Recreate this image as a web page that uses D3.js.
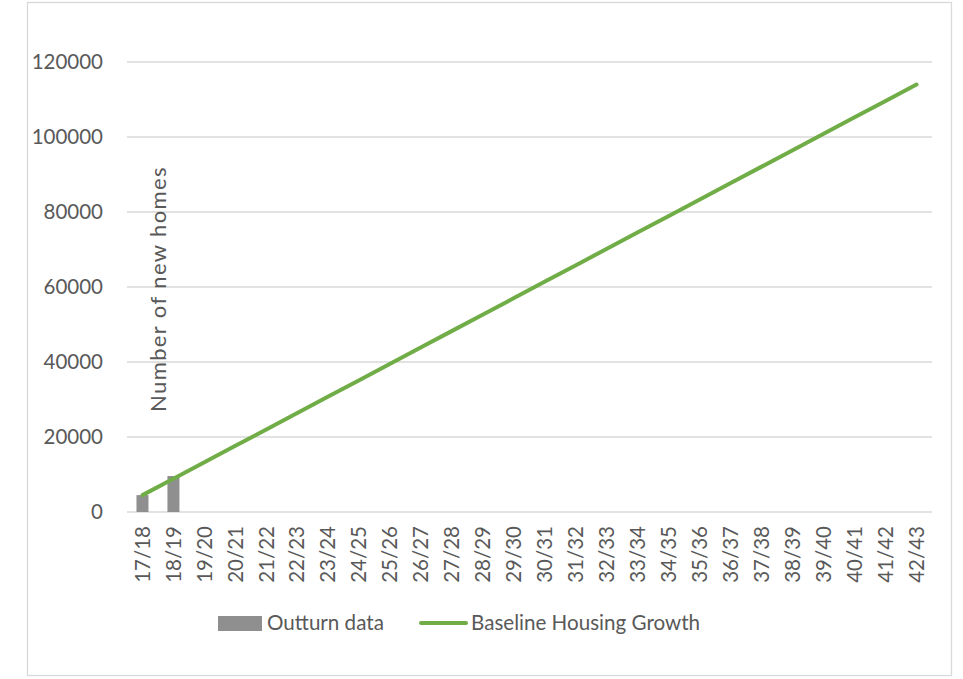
<!DOCTYPE html>
<html lang="en">
<head>
  <meta charset="UTF-8">
  <title>Baseline Housing Growth</title>
  <style>
    body {
      margin: 0;
      padding: 0;
      background: #fff;
      font-family: Lato, "Open Sans", sans-serif;
    }
    svg { display: block; }
    .grid line { stroke: #d9d9d9; stroke-width: 1.3px; }
    .label { fill: #595959; }
  </style>
</head>
<body>
  <svg width="963" height="679"></svg>

  <script src="https://d3js.org/d3.v7.min.js"></script>
  <script>
    const years = ["17/18", "18/19", "19/20", "20/21", "21/22", "22/23", "23/24", "24/25",
      "25/26", "26/27", "27/28", "28/29", "29/30", "30/31", "31/32", "32/33", "33/34",
      "34/35", "35/36", "36/37", "37/38", "38/39", "39/40", "40/41", "41/42", "42/43"];
    const outturn = [4500, 9600];
    const baseline = [4500, 8880, 13260, 17640, 22020, 26400, 30780, 35160, 39540, 43920,
      48300, 52680, 57060, 61440, 65820, 70200, 74580, 78960, 83340, 87720, 92100,
      96480, 100860, 105240, 109620, 114000];
    const yTicks = [0, 20000, 40000, 60000, 80000, 100000, 120000];

    const svg = d3.select("svg");
    const plotL = 127, plotR = 932, plotT = 62, plotB = 512;

    // outer frame
    svg.append("rect")
      .attr("x", 27.5).attr("y", 2.5)
      .attr("width", 924).attr("height", 673)
      .attr("fill", "none")
      .attr("stroke", "#d9d9d9")
      .attr("stroke-width", 1.3);

    const x = d3.scaleBand().domain(years).range([plotL, plotR]);
    const y = d3.scaleLinear().domain([0, 120000]).range([plotB, plotT]);

    // gridlines
    svg.append("g").attr("class", "grid")
      .selectAll("line")
      .data(yTicks)
      .join("line")
      .attr("x1", plotL).attr("x2", plotR)
      .attr("y1", d => y(d)).attr("y2", d => y(d));

    // y tick labels
    svg.append("g")
      .selectAll("text")
      .data(yTicks)
      .join("text")
      .attr("class", "label")
      .attr("x", 103)
      .attr("y", d => y(d))
      .attr("dy", "0.35em")
      .attr("text-anchor", "end")
      .style("font-size", "20.5px")
      .text(d => d);

    // x tick labels
    svg.append("g")
      .selectAll("text")
      .data(years)
      .join("text")
      .attr("class", "label")
      .attr("transform", d => `translate(${x(d) + x.bandwidth() / 2},526) rotate(-90)`)
      .attr("dy", "0.35em")
      .attr("text-anchor", "end")
      .style("font-size", "20.5px")
      .text(d => d);

    // bars
    const barW = 12;
    svg.append("g")
      .selectAll("rect")
      .data(outturn)
      .join("rect")
      .attr("x", (d, i) => x(years[i]) + x.bandwidth() / 2 - barW / 2)
      .attr("y", d => y(d))
      .attr("width", barW)
      .attr("height", d => y(0) - y(d))
      .attr("fill", "#8f8f8f");

    // line
    const line = d3.line()
      .x((d, i) => x(years[i]) + x.bandwidth() / 2)
      .y(d => y(d));
    svg.append("path")
      .datum(baseline)
      .attr("d", line)
      .attr("fill", "none")
      .attr("stroke", "#70ad47")
      .attr("stroke-width", 4)
      .attr("stroke-linecap", "round");

    // axis title (sits inside the plot, as in the original)
    svg.append("text")
      .attr("class", "label")
      .attr("transform", "translate(158,289) rotate(-90)")
      .attr("dy", "0.35em")
      .attr("text-anchor", "middle")
      .style("font-size", "22px")
      .style("letter-spacing", "1.4px")
      .text("Number of new homes");

    // legend
    const legend = svg.append("g");
    legend.append("rect")
      .attr("x", 218).attr("y", 616)
      .attr("width", 44).attr("height", 15)
      .attr("fill", "#8f8f8f");
    legend.append("text")
      .attr("class", "label")
      .attr("x", 267).attr("y", 623)
      .attr("dy", "0.35em")
      .style("font-size", "20.6px")
      .text("Outturn data");
    legend.append("line")
      .attr("x1", 421).attr("x2", 466)
      .attr("y1", 623).attr("y2", 623)
      .attr("stroke", "#70ad47")
      .attr("stroke-width", 4)
      .attr("stroke-linecap", "round");
    legend.append("text")
      .attr("class", "label")
      .attr("x", 471).attr("y", 623)
      .attr("dy", "0.35em")
      .style("font-size", "20.6px")
      .text("Baseline Housing Growth");
  </script>
</body>
</html>
